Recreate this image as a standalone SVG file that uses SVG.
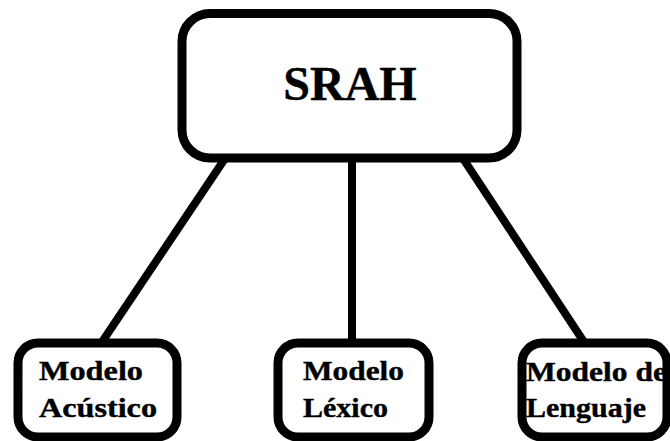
<svg xmlns="http://www.w3.org/2000/svg" width="670" height="441" viewBox="0 0 670 441">
<style>
.box{fill:#fff;stroke:#000;stroke-width:9}
.ln{stroke:#000;stroke-width:8;fill:none}
.t{font-family:"Liberation Serif","Times New Roman",serif;font-weight:bold;fill:#000;stroke:#000;stroke-width:0.4}
.big{font-size:48px}
.sm{font-size:28px}
</style>
<rect width="670" height="441" fill="#fff"/>
<g id="connectors">
<line class="ln" x1="224" y1="160" x2="102" y2="342"/>
<line class="ln" x1="352" y1="158" x2="352" y2="343"/>
<line class="ln" x1="464" y1="160" x2="584" y2="342"/>
</g>
<g id="srah">
<rect class="box" x="182" y="13.5" width="335" height="144.5" rx="28"/>
<text class="t big" x="350" y="100" text-anchor="middle">SRAH</text>
</g>
<g id="acustico">
<rect class="box" x="18" y="343" width="159" height="94" rx="20"/>
<text class="t sm" x="39" y="380" textLength="104" lengthAdjust="spacingAndGlyphs">Modelo</text>
<text class="t sm" x="39" y="417" textLength="118" lengthAdjust="spacingAndGlyphs">Acústico</text>
</g>
<g id="lexico">
<rect class="box" x="278" y="343" width="151" height="94" rx="20"/>
<text class="t sm" x="303" y="380" textLength="101" lengthAdjust="spacingAndGlyphs">Modelo</text>
<text class="t sm" x="303" y="417" textLength="85" lengthAdjust="spacingAndGlyphs">Léxico</text>
</g>
<g id="lenguaje">
<rect class="box" x="522" y="343" width="145" height="94" rx="20"/>
<text class="t sm" x="526" y="381" textLength="141" lengthAdjust="spacingAndGlyphs">Modelo de</text>
<text class="t sm" x="526" y="417" textLength="120" lengthAdjust="spacingAndGlyphs">Lenguaje</text>
</g>
</svg>
